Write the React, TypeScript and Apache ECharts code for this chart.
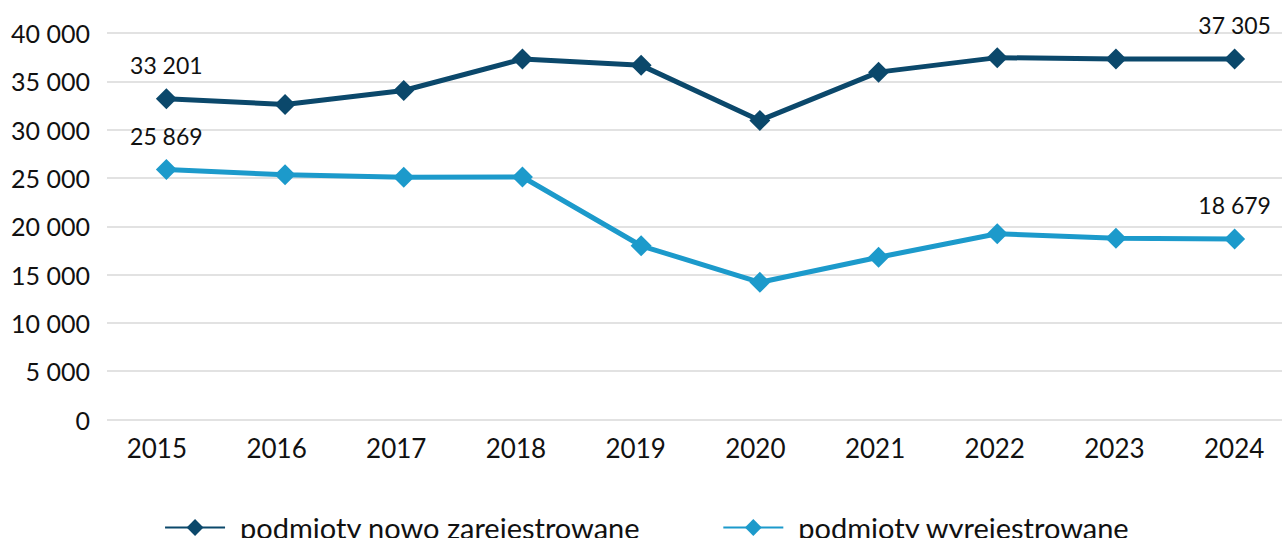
import React, { useEffect, useRef } from "react";
import * as echarts from "echarts";

const years = ["2015", "2016", "2017", "2018", "2019", "2020", "2021", "2022", "2023", "2024"];
const newlyRegistered = [33201, 32600, 34050, 37300, 36650, 30950, 35950, 37450, 37300, 37305];
const deregistered = [25869, 25330, 25060, 25100, 17980, 14200, 16790, 19220, 18770, 18679];
const seriesNames = ["podmioty nowo zarejestrowane", "podmioty wyrejestrowane"];
const yTicks = { min: 0, max: 40000, interval: 5000 };

const DARK = "#0B486B";
const LIGHT = "#1C9ACB";
const FONT = "Lato";

const fmt = (v: number) => String(Math.round(v)).replace(/\B(?=(\d{3})+(?!\d))/g, " ");

function toData(arr: number[]) {
  const last = arr.length - 1;
  return arr.map((v, i) => ({
    value: v,
    label: { show: i === 0 || i === last },
  }));
}

export default function App() {
  const ref = useRef<HTMLDivElement>(null);
  useEffect(() => {
    if (!ref.current) return;
    const chart = echarts.init(ref.current, undefined, { renderer: "svg" });
    const lineSeries = (name: string, data: number[], color: string) => ({
      type: "line",
      name,
      xAxisIndex: 0,
      yAxisIndex: 0,
      data: toData(data),
      symbol: "diamond",
      symbolSize: 21,
      lineStyle: { color, width: 5 },
      itemStyle: { color },
      label: {
        position: "top",
        distance: 12,
        color: "#111",
        fontFamily: FONT,
        fontSize: 23,
        formatter: (p: any) => fmt(p.value),
      },
    });
    chart.setOption({
      animation: false,
      textStyle: { fontFamily: FONT },
      grid: [
        { left: 107, right: 0, top: 33, bottom: 118.5 },
        { left: 97, right: 0, top: 33, bottom: 118.5 },
      ],
      xAxis: [
        {
          type: "category",
          gridIndex: 0,
          data: years,
          boundaryGap: true,
          axisLine: { show: false },
          axisTick: { show: false },
          axisLabel: { show: false },
        },
        {
          type: "category",
          gridIndex: 1,
          data: years,
          boundaryGap: true,
          axisLine: { show: false },
          axisTick: { show: false },
          axisLabel: {
            color: "#111",
            fontFamily: FONT,
            fontSize: 26,
            margin: 15,
          },
        },
      ],
      yAxis: [
        {
          type: "value",
          gridIndex: 0,
          min: yTicks.min,
          max: yTicks.max,
          interval: yTicks.interval,
          axisLine: { show: false },
          axisTick: { show: false },
          splitLine: { lineStyle: { color: "#D9D9D9", width: 1.5 } },
          axisLabel: {
            color: "#111",
            fontFamily: FONT,
            fontSize: 25,
            margin: 17,
            formatter: (v: number) => fmt(v),
          },
        },
        {
          type: "value",
          gridIndex: 1,
          min: yTicks.min,
          max: yTicks.max,
          show: false,
        },
      ],
      legend: {
        bottom: -9,
        left: "center",
        itemWidth: 60,
        itemHeight: 21,
        itemGap: 82,
        textStyle: { color: "#111", fontFamily: FONT, fontSize: 29, padding: [0, 0, 0, 10] },
        data: seriesNames,
      },
      series: [
        lineSeries(seriesNames[0], newlyRegistered, DARK),
        lineSeries(seriesNames[1], deregistered, LIGHT),
      ],
    });
    return () => chart.dispose();
  }, []);
  return (
    <div style={{ position: "absolute", left: 0, top: 0, width: 1282, height: 538, overflow: "hidden" }}>
      <div ref={ref} style={{ width: 1294, height: 538 }} />
    </div>
  );
}
